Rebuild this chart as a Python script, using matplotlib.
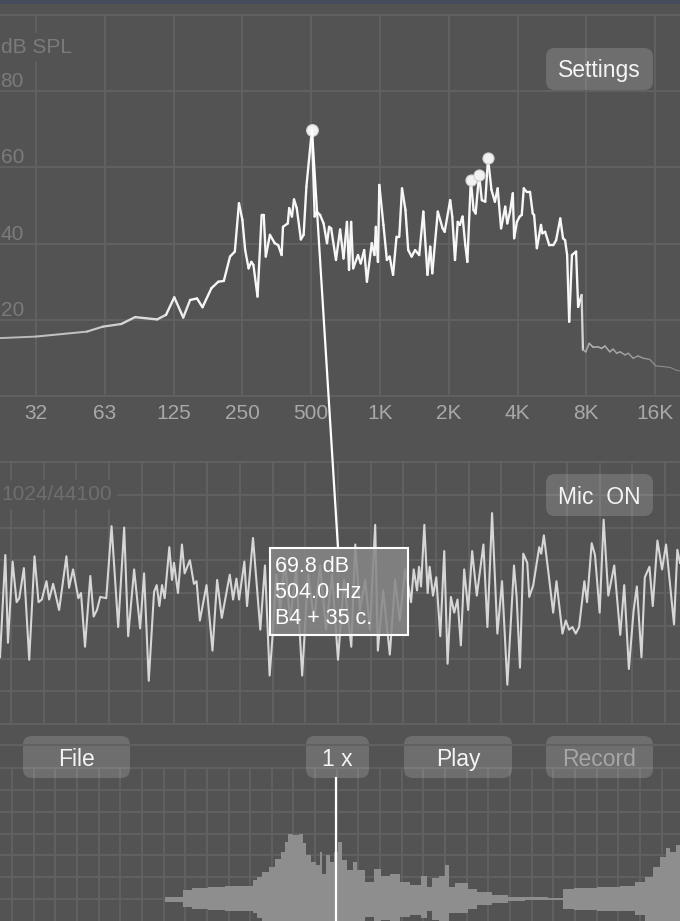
import numpy as np
import matplotlib
matplotlib.use('Agg')
import matplotlib.pyplot as plt
import matplotlib.transforms as mtransforms
from matplotlib.collections import LineCollection
from matplotlib.patches import FancyBboxPatch, Rectangle, ConnectionPatch
from matplotlib.ticker import NullLocator, NullFormatter

# --- spectrum (octaves above 31.25 Hz, level in dB SPL) ---
spec_oct = [-0.52, 0.00, 0.74, 0.97, 1.24, 1.44, 1.76, 1.89, 2.01, 2.14,
            2.24, 2.34, 2.42, 2.55, 2.65, 2.73, 2.82, 2.89, 2.95, 3.00,
            3.04, 3.09, 3.13, 3.16, 3.22, 3.28, 3.31, 3.34, 3.40, 3.47,
            3.52, 3.57, 3.59, 3.66, 3.68, 3.72, 3.75, 3.79, 3.85, 3.89,
            3.93, 4.01, 4.05, 4.08, 4.13, 4.18, 4.23, 4.26, 4.29, 4.36,
            4.42, 4.47, 4.52, 4.55, 4.58, 4.61, 4.68, 4.72, 4.77, 4.81,
            4.88, 4.92, 4.94, 4.97, 4.99, 5.05, 5.10, 5.14, 5.19, 5.24,
            5.28, 5.32, 5.37, 5.41, 5.46, 5.51, 5.57, 5.63, 5.69, 5.73,
            5.76, 5.84, 5.91, 5.94, 6.02, 6.05, 6.09, 6.13, 6.16, 6.20,
            6.24, 6.27, 6.32, 6.36, 6.39, 6.44, 6.48, 6.53, 6.57, 6.62,
            6.67, 6.71, 6.76, 6.82, 6.85, 6.89, 6.93, 6.95, 6.99, 7.03,
            7.06, 7.09, 7.13, 7.18, 7.22, 7.24, 7.28, 7.34, 7.36, 7.40,
            7.46, 7.52, 7.56, 7.62, 7.66, 7.69, 7.72, 7.75, 7.79, 7.85,
            7.88, 7.93, 7.95, 7.99, 8.04, 8.10, 8.17, 8.22, 8.27, 8.34,
            8.39, 8.44, 8.49, 8.56, 8.61, 8.68, 8.75, 8.83, 8.92, 9.01,
            9.12, 9.22, 9.30, 9.39]
spec_db = [15.2, 15.6, 16.9, 18.2, 18.9, 20.7, 20.1, 21.3, 25.9, 20.6,
           25.2, 25.6, 23.3, 28.3, 30.0, 30.2, 36.6, 37.9, 50.6, 46.2,
           38.3, 33.5, 35.2, 34.4, 26.1, 47.5, 47.5, 36.6, 42.3, 40.1,
           39.6, 37.0, 44.4, 45.3, 49.3, 47.1, 51.6, 49.3, 41.1, 42.3,
           54.9, 69.8, 47.1, 48.4, 47.5, 45.3, 40.1, 44.4, 44.0, 35.7,
           43.7, 36.1, 45.7, 33.1, 45.7, 33.5, 37.0, 34.8, 38.3, 30.0,
           40.1, 37.0, 44.4, 35.2, 55.4, 44.9, 35.7, 36.6, 31.8, 41.8,
           41.8, 54.5, 48.8, 38.3, 36.6, 38.3, 37.0, 48.4, 31.8, 39.2,
           32.2, 48.4, 44.0, 43.1, 51.4, 47.1, 35.7, 45.7, 44.9, 47.1,
           39.6, 35.2, 56.7, 48.8, 47.9, 58.0, 51.4, 51.0, 62.4, 54.1,
           51.0, 54.5, 44.0, 49.7, 45.3, 48.4, 53.2, 41.4, 45.7, 47.1,
           47.5, 54.5, 53.6, 53.6, 47.9, 47.5, 38.8, 44.9, 42.7, 43.1,
           39.6, 39.6, 40.9, 46.6, 41.4, 40.9, 37.0, 19.5, 37.0, 37.9,
           23.4, 26.5, 12.1, 11.6, 13.8, 12.8, 12.9, 12.5, 13.1, 11.6,
           12.3, 11.2, 11.6, 10.8, 11.2, 9.9, 10.5, 9.9, 9.6, 7.9,
           7.7, 7.5, 6.8, 6.5]

peak_oct = [6.32, 6.44, 6.57]
peak_db = [56.7, 58.0, 62.4]
peak_freq = 504.0
peak_level = 69.8
peak_note = 'B4 + 35 c.'

band_labels = ['32', '63', '125', '250', '500', '1K', '2K', '4K', '8K', '16K']
db_ticks = [20, 40, 60, 80]

# --- time signal, 1024 samples ---
wave_t = [0, 8, 12, 19, 25, 29, 36, 44, 52, 58,
          63, 70, 74, 80, 89, 100, 104, 110, 118, 122,
          128, 136, 141, 146, 151, 160, 168, 178, 187, 193,
          202, 211, 217, 224, 232, 236, 240, 244, 248, 255,
          259, 262, 268, 274, 278, 286, 292, 296, 301, 311,
          320, 327, 334, 346, 351, 356, 360, 368, 372, 381,
          392, 399, 406, 410, 416, 422, 429, 437, 446, 455,
          464, 473, 482, 491, 500, 509, 518, 529, 535, 542,
          550, 557, 565, 569, 577, 587, 595, 602, 610, 615,
          619, 623, 628, 631, 634, 639, 644, 647, 652, 657,
          663, 669, 674, 679, 684, 689, 694, 699, 705, 711,
          718, 728, 734, 741, 749, 756, 764, 774, 778, 783,
          788, 794, 797, 803, 812, 815, 819, 826, 833, 838,
          847, 852, 857, 862, 867, 872, 880, 884, 891, 896,
          903, 909, 916, 925, 934, 940, 947, 954, 959, 966,
          971, 978, 983, 990, 997, 1003, 1015, 1020, 1024]
wave_amp = [-0.49, 0.29, -0.38, 0.24, -0.07, -0.04, 0.19, -0.51, 0.28, -0.07,
            -0.05, 0.09, -0.05, 0.07, -0.13, 0.28, 0.04, 0.18, -0.04, 0.00,
            -0.41, 0.13, -0.18, -0.13, -0.03, -0.04, 0.51, -0.26, 0.50, -0.33,
            0.18, -0.27, 0.15, -0.67, 0.01, 0.06, -0.10, 0.06, -0.04, 0.35,
            0.10, 0.23, 0.00, 0.37, 0.15, 0.25, 0.07, 0.09, -0.21, 0.06,
            -0.44, 0.10, -0.19, 0.14, -0.05, 0.11, -0.05, 0.24, -0.10, 0.42,
            -0.28, 0.21, -0.63, -0.36, 0.14, -0.13, 0.25, -0.21, 0.18, -0.63,
            0.14, -0.21, 0.21, -0.28, 0.14, -0.51, 0.10, -0.41, 0.37, -0.13,
            0.10, -0.28, 0.52, -0.44, 0.02, -0.47, 0.10, -0.21, 0.18, 0.05,
            -0.07, 0.18, 0.02, 0.20, 0.05, 0.52, 0.00, 0.20, -0.02, 0.12,
            -0.33, 0.32, -0.54, -0.03, -0.15, -0.05, -0.40, 0.18, -0.13, 0.32,
            -0.02, 0.37, -0.26, 0.61, -0.31, 0.09, -0.70, 0.21, -0.03, -0.57,
            0.30, 0.23, -0.03, 0.06, 0.35, 0.30, 0.44, 0.15, -0.15, 0.09,
            -0.31, -0.21, -0.28, -0.26, -0.31, -0.26, 0.09, -0.07, 0.38, 0.29,
            -0.15, 0.56, -0.02, 0.21, -0.32, 0.06, -0.58, -0.14, 0.05, -0.49,
            0.12, 0.20, -0.10, 0.40, 0.18, 0.37, -0.24, 0.33, 0.23]

# --- file overview envelope (position in % of file) ---
env_pos = [24.3, 26.9, 27.0, 29.4, 31.9, 34.3, 36.8, 37.5, 38.2, 39.0,
           40.0, 40.9, 41.7, 42.2, 42.5, 43.6, 44.4, 44.7, 45.3, 46.1,
           46.8, 47.3, 47.5, 48.3, 48.8, 49.4, 50.1, 50.5, 51.5, 52.2,
           52.9, 54.4, 55.6, 56.4, 58.3, 59.3, 61.3, 62.5, 63.2, 64.0,
           65.2, 65.8, 66.2, 67.6, 68.4, 69.1, 71.1, 73.5, 76.0, 78.4,
           82.8, 82.9, 85.8, 89.7, 92.6, 94.1, 95.6, 96.6, 97.5, 98.3,
           98.9, 100]
env_hi = [0.03, 0.02, 0.10, 0.13, 0.14, 0.15, 0.15, 0.22, 0.25, 0.31,
          0.37, 0.46, 0.54, 0.65, 0.75, 0.73, 0.75, 0.64, 0.50, 0.43,
          0.39, 0.54, 0.29, 0.50, 0.43, 0.54, 0.65, 0.45, 0.33, 0.43,
          0.33, 0.20, 0.35, 0.27, 0.29, 0.20, 0.16, 0.27, 0.14, 0.24,
          0.27, 0.39, 0.14, 0.18, 0.18, 0.12, 0.08, 0.05, 0.03, 0.02,
          0.01, 0.12, 0.13, 0.14, 0.15, 0.20, 0.25, 0.37, 0.48, 0.58,
          0.54, 0.62]
env_lo = [-0.03, -0.03, -0.09, -0.11, -0.12, -0.13, -0.14, -0.16, -0.22, -0.30,
          -0.36, -0.45, -0.52, -0.62, -0.70, -0.70, -0.72, -0.62, -0.50, -0.42,
          -0.38, -0.45, -0.32, -0.48, -0.42, -0.50, -0.60, -0.45, -0.34, -0.40,
          -0.32, -0.20, -0.26, -0.24, -0.25, -0.20, -0.18, -0.22, -0.14, -0.24,
          -0.26, -0.30, -0.16, -0.16, -0.16, -0.11, -0.07, -0.04, -0.02, -0.01,
          -0.01, -0.11, -0.12, -0.13, -0.14, -0.18, -0.26, -0.36, -0.47, -0.56,
          -0.55, -0.60]
play_pos = 49.4

W, H = 680, 921
BG = '#535353'
GRID = '#616161'
TXT = '#f4f4f4'

plt.rcParams['font.family'] = ['Liberation Sans', 'DejaVu Sans']

fig = plt.figure(figsize=(W / 100, H / 100), dpi=100, facecolor=BG)


def add_px_axes(left, top, right, bottom, **kw):
    return fig.add_axes([left / W, 1 - bottom / H, (right - left) / W, (bottom - top) / H], **kw)


def style_grid(a, sides=('top', 'bottom')):
    a.set_facecolor(BG)
    a.grid(True, color=GRID, lw=1.4)
    a.set_axisbelow(True)
    for s in a.spines:
        a.spines[s].set_visible(s in sides)
        a.spines[s].set_color(GRID)
        a.spines[s].set_linewidth(1.4)


# ---------------- spectrum ----------------
ax = add_px_axes(0, 15, 680, 396)
ax.set_xscale('log', base=2)
ax.set_xlim(31.25 * 2 ** (-36 / 68.8), 31.25 * 2 ** (644 / 68.8))
ax.set_ylim(0, 100)
band_hz = [31.25 * 2 ** k for k in range(len(band_labels))]
ax.set_xticks(band_hz, band_labels)
ax.xaxis.set_minor_locator(NullLocator())
ax.xaxis.set_minor_formatter(NullFormatter())
ax.set_yticks(db_ticks)
ax.tick_params(axis='x', length=0, pad=5.5, labelsize=15, labelcolor='#a8a8a8')
ax.tick_params(axis='y', length=0, labelleft=False)
style_grid(ax)

hz = 31.25 * 2 ** np.array(spec_oct)
db = np.array(spec_db)
pts = np.column_stack([hz, db])
segs = np.stack([pts[:-1], pts[1:]], axis=1)
mid = (db[:-1] + db[1:]) / 2
g = np.clip(0.35 + 0.025 * mid, 0.45, 0.97)
lws = np.clip(0.3 + 0.07 * mid, 0.8, 1.7)
lc = LineCollection(segs, colors=[(v, v, v) for v in g], linewidths=lws,
                    capstyle='round', joinstyle='round')
ax.add_collection(lc)

ax.plot([peak_freq], [peak_level], 'o', ms=8.5, color='#f2f2f2', mec='#cfcfcf', mew=0.8, zorder=5)
ax.plot(31.25 * 2 ** np.array(peak_oct), peak_db, 'o', ms=8, color='#f2f2f2',
        mec='#cfcfcf', mew=0.8, zorder=5)

ytrans = mtransforms.blended_transform_factory(ax.transAxes, ax.transData)
for v in db_ticks:
    ax.text(0.5 / W, v + 1.05, str(v), transform=ytrans, ha='left', va='baseline',
            fontsize=15, color='#7b7b7b')

# ---------------- waveform ----------------
axw = add_px_axes(0, 462, 680, 724)
axw.set_xlim(0, 1024)
axw.set_ylim(-1, 1)
axw.set_xticks(np.arange(16.56, 1024, 49.24))
axw.set_yticks(np.arange(-0.75, 0.8, 0.25))
axw.tick_params(length=0, labelbottom=False, labelleft=False)
style_grid(axw)
axw.plot(wave_t, wave_amp, color='#d6d6d6', lw=1.5, solid_joinstyle='round')

# ---------------- file overview ----------------
axb = add_px_axes(0, 768, 680, 921)
axb.set_xlim(0, 100)
axb.set_ylim(-0.25, 1.5)
axb.set_xticks(np.arange(1.765, 100, 3.184))
axb.set_yticks(np.arange(0, 1.3, 0.25))
axb.tick_params(length=0, labelbottom=False, labelleft=False)
style_grid(axb, sides=('top',))
axb.fill_between(env_pos, env_lo, env_hi, color='#8e8e8e', lw=0, zorder=3, step='mid')
axb.axvline(play_pos, ymin=0, ymax=(921 - 778) / 153, color='white', lw=1.6, zorder=4)

# ---------------- overlay (labels, buttons, tooltip) ----------------
ov = fig.add_axes([0, 0, 1, 1], zorder=10)
ov.set_xlim(0, W)
ov.set_ylim(H, 0)
ov.axis('off')
ov.patch.set_alpha(0)

ov.add_patch(Rectangle((0, 0), W, 4.5, fc='#454c5d', ec='none'))
ov.plot([0, W], [745, 745], color=GRID, lw=1.4)

ov.text(1, 53, 'dB SPL', ha='left', va='baseline', fontsize=15, color='#7b7b7b',
        bbox=dict(fc=BG, ec='none', boxstyle='square,pad=0.25'))
ov.text(1, 500, '1024/44100', ha='left', va='baseline', fontsize=15, color='#6e6e6e',
        bbox=dict(fc=BG, ec='none', boxstyle='square,pad=0.25'))


def button(x0, y0, x1, y1, label, tc=TXT):
    ov.add_patch(FancyBboxPatch((x0, y0), x1 - x0, y1 - y0,
                                boxstyle='round,pad=0,rounding_size=9',
                                fc=(1, 1, 1, 0.16), ec='none'))
    ov.text((x0 + x1) / 2, (y0 + y1) / 2 + 2, label, ha='center', va='center',
            fontsize=16.5, color=tc)


button(546, 48, 653, 90, 'Settings')
button(546, 474, 653, 516, 'Mic  ON')
button(23, 736, 130, 778, 'File')
button(306, 736, 369, 778, '1 x')
button(404, 736, 512, 778, 'Play')
button(546, 736, 653, 778, 'Record', tc='#a6a6a6')

# tooltip for the main peak
ov.add_patch(Rectangle((270, 548), 138, 87, fc=(0.53, 0.53, 0.53, 0.86), ec='white', lw=1.5))
tip_lines = [f'{peak_level:.1f} dB', f'{peak_freq:.1f} Hz', peak_note]
for i, s in enumerate(tip_lines):
    ov.text(275, 566 + 26.3 * i, s, ha='left', va='center', fontsize=15.5, color='white')

con = ConnectionPatch(xyA=(peak_freq, peak_level), coordsA=ax.transData,
                      xyB=(338, 548), coordsB=ov.transData, color='white', lw=1.6)
ov.add_artist(con)

fig.savefig('out.png', dpi=100, facecolor=BG)
